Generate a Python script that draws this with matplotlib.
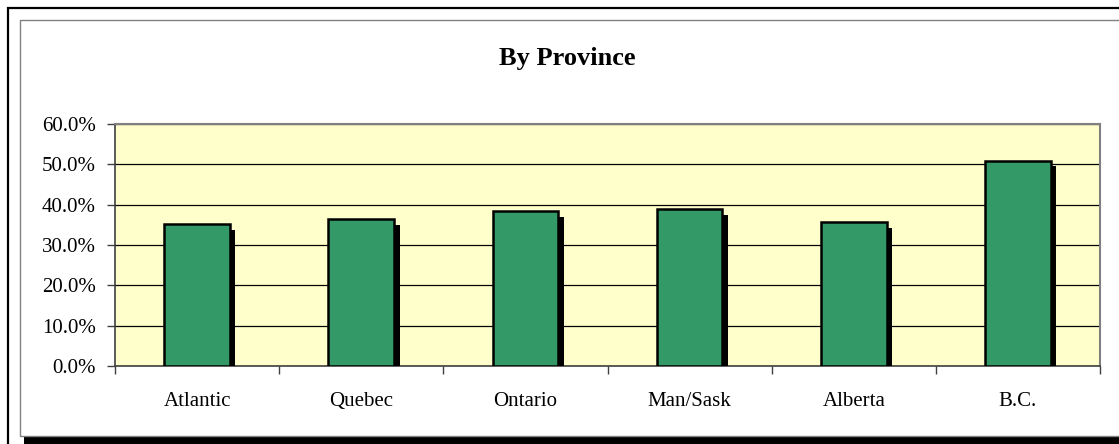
import matplotlib
matplotlib.use("Agg")
import matplotlib.pyplot as plt
import matplotlib.patheffects as pe
from matplotlib.patches import Rectangle
from matplotlib.ticker import FuncFormatter, FixedLocator

provinces = ["Atlantic", "Quebec", "Ontario", "Man/Sask", "Alberta", "B.C."]
share = [35.2, 36.4, 38.4, 38.9, 35.7, 50.9]
y_ticks = [0, 10, 20, 30, 40, 50, 60]

plt.rcParams["font.family"] = ["Liberation Serif", "DejaVu Serif"]

W, H = 1119, 444
fig = plt.figure(figsize=(W / 100, H / 100), dpi=100)

# outer frames (chart area with shadow)
def px(x, y):
    return x / W, 1 - y / H

fig.patches.append(Rectangle(px(7.5, 470), 1200 / W, 462 / H, transform=fig.transFigure,
                             fill=False, edgecolor="black", linewidth=1.6, zorder=0))
fig.patches.append(Rectangle(px(24, 444), 1200 / W, 420 / H, transform=fig.transFigure,
                             facecolor="black", edgecolor="none", zorder=1))
fig.patches.append(Rectangle(px(19.5, 435.5), 1200 / W, 415 / H, transform=fig.transFigure,
                             facecolor="white", edgecolor="#808080", linewidth=1.0, zorder=2))

ax = fig.add_axes([115 / W, 1 - 366 / H, (1100 - 115) / W, (366 - 124) / H])
ax.set_zorder(3)
ax.set_facecolor("#FFFFCC")

x = range(len(provinces))
bars = ax.bar(x, share, width=0.40, color="#339966", edgecolor="black", linewidth=1.8, zorder=3)
for b in bars:
    b.set_path_effects([pe.SimplePatchShadow(offset=(4, -4), shadow_rgbFace="black", alpha=1.0),
                        pe.Normal()])

ax.set_xlim(-0.5, len(provinces) - 0.5)
ax.set_ylim(0, 60)
ax.yaxis.set_major_locator(FixedLocator(y_ticks))
ax.yaxis.set_major_formatter(FuncFormatter(lambda v, p: f"{v:.1f}%"))
ax.grid(axis="y", color="black", linewidth=0.9, zorder=1)
ax.set_axisbelow(True)

ax.set_xticks([i + 0.5 for i in range(len(provinces) - 1)] + [-0.5, len(provinces) - 0.5])
ax.set_xticklabels([])
ax.set_xticks(list(x), minor=True)
ax.set_xticklabels(provinces, minor=True, fontsize=15)
ax.tick_params(axis="x", which="minor", length=0, pad=19)
ax.tick_params(axis="x", which="major", length=6, width=1, color="#404040")
ax.tick_params(axis="y", length=6, width=1, color="#404040", labelsize=15, pad=8)

for s in ["top", "right"]:
    ax.spines[s].set_color("#808080")
    ax.spines[s].set_linewidth(1.5)
for s in ["left", "bottom"]:
    ax.spines[s].set_color("#404040")
    ax.spines[s].set_linewidth(1.2)

fig.text(567 / W, 1 - 58 / H, "By Province", ha="center", va="center",
         fontsize=19, fontweight="bold")

fig.savefig("out.png", dpi=100)
